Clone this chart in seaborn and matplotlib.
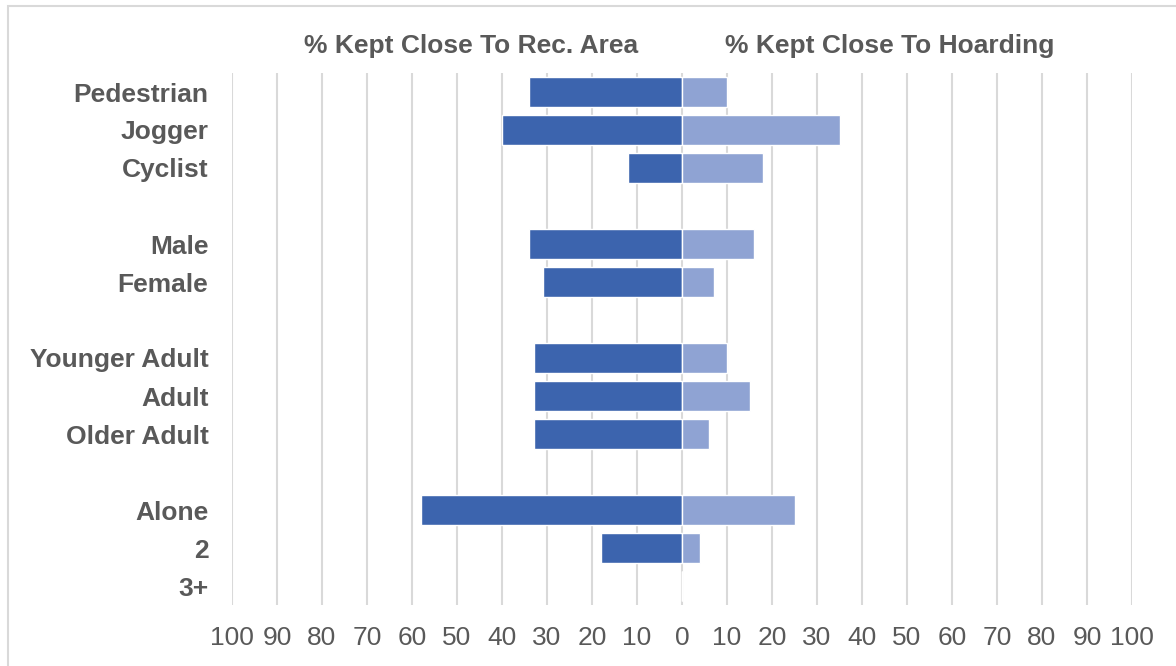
import pandas as pd
import seaborn as sns
import matplotlib.pyplot as plt
from matplotlib.patches import Rectangle

# rows, with blank entries as spacers between the groups
rows = ['Pedestrian', 'Jogger', 'Cyclist', ' ',
        'Male', 'Female', '  ',
        'Younger Adult', 'Adult', 'Older Adult', '   ',
        'Alone', '2', '3+']
groups = ['Pedestrian', 'Jogger', 'Cyclist', 'Male', 'Female',
          'Younger Adult', 'Adult', 'Older Adult', 'Alone', '2', '3+']
rec_area = [34, 40, 12, 34, 31, 33, 33, 33, 58, 18, 0]
hoarding = [10, 35, 18, 16, 7, 10, 15, 6, 25, 4, 0]
ticks = list(range(-100, 101, 10))
tick_labels = [str(abs(t)) for t in ticks]

df = pd.DataFrame({'group': groups,
                   'rec': [-v for v in rec_area],
                   'hoard': hoarding})

sns.set_style('white')
plt.rcParams['font.family'] = ['Liberation Sans', 'DejaVu Sans']
txt = '#595959'

fig = plt.figure(figsize=(11.76, 6.66), dpi=100)
ax = fig.add_axes([232 / 1176, 1 - 605 / 666, 900 / 1176, 532 / 666])

sns.barplot(data=df, y='group', x='rec', order=rows, orient='h', color='#3c64ae',
            saturation=1, width=0.8, edgecolor='white', linewidth=1, ax=ax, zorder=3)
sns.barplot(data=df, y='group', x='hoard', order=rows, orient='h', color='#8fa3d3',
            saturation=1, width=0.8, edgecolor='white', linewidth=1, ax=ax, zorder=3)

ax.set_xlim(-100, 100)
ax.set_ylim(13.5, -0.5)
ax.set_xticks(ticks)
ax.set_xticklabels(tick_labels)
ax.xaxis.grid(True, color='#d9d9d9', linewidth=1.5, zorder=0)
ax.set_axisbelow(True)
for s in ax.spines.values():
    s.set_visible(False)
ax.set_xlabel('')
ax.set_ylabel('')
ax.tick_params(axis='x', length=0, pad=15, labelsize=19, labelcolor=txt)
ax.tick_params(axis='y', length=0, pad=17, labelsize=19, labelcolor=txt)
for lbl in ax.get_yticklabels():
    lbl.set_fontweight('bold')

ax.text(-46.8, 1.051, '% Kept Close To Rec. Area', transform=ax.get_xaxis_transform(),
        ha='center', va='center', fontsize=19, fontweight='bold', color=txt)
ax.text(46.2, 1.051, '% Kept Close To Hoarding', transform=ax.get_xaxis_transform(),
        ha='center', va='center', fontsize=19, fontweight='bold', color=txt)

fig.patches.append(Rectangle((7.5 / 1176, -0.05), 1.1, 1.05 - 6 / 666,
                             transform=fig.transFigure, fill=False,
                             edgecolor='#d9d9d9', linewidth=1.5))

fig.savefig('out.png', dpi=100)
